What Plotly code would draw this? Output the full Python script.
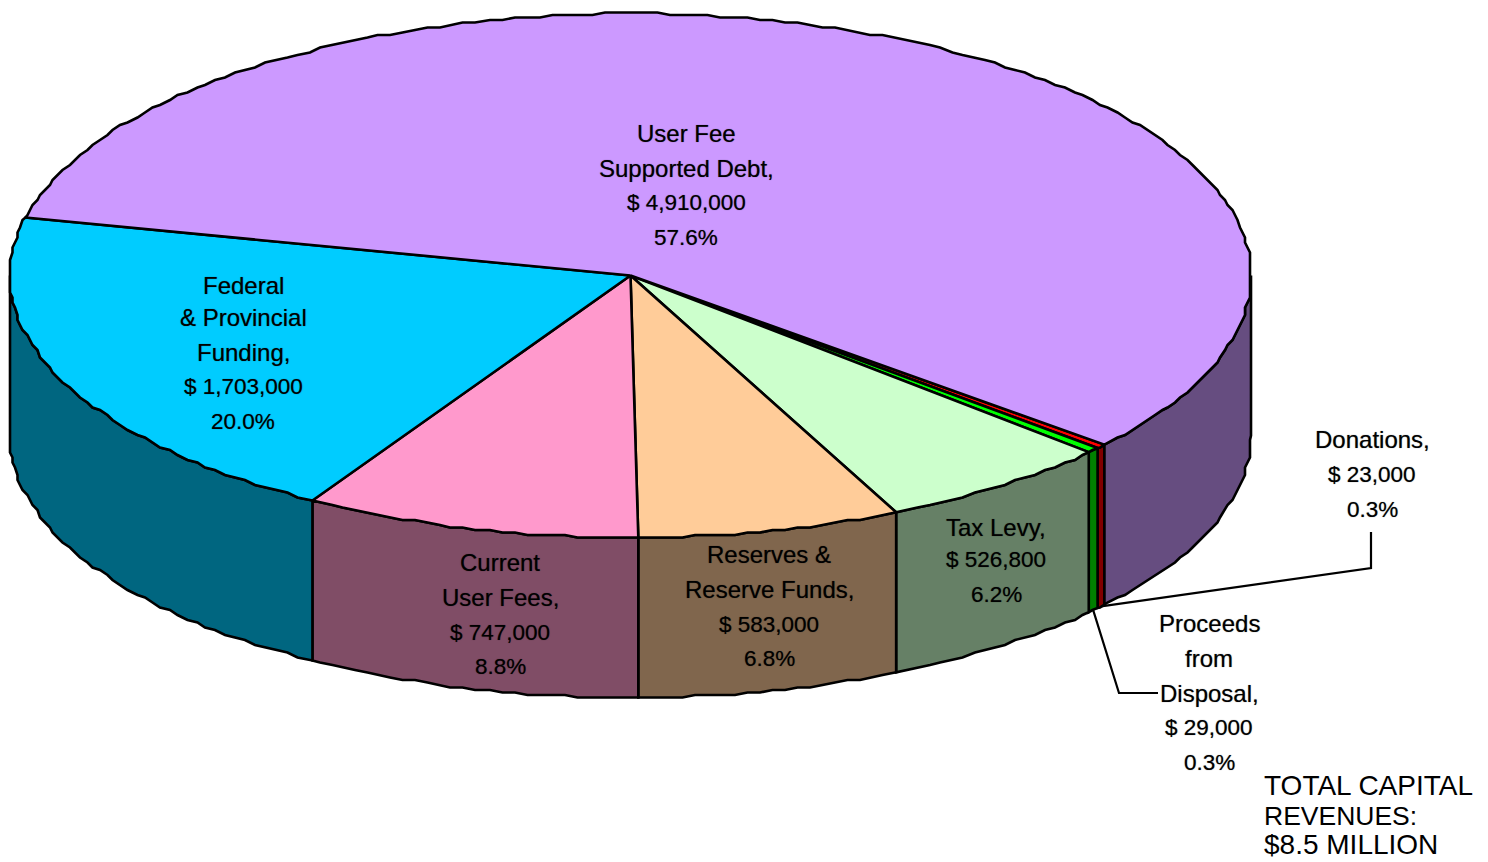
import numpy as np
import plotly.graph_objects as go

# Capital revenue sources, clockwise from the User Fee / Donations boundary
categories = ["Donations", "Proceeds from Disposal", "Tax Levy", "Reserves & Reserve Funds",
              "Current User Fees", "Federal & Provincial Funding", "User Fee Supported Debt"]
amounts = [23000, 29000, 526800, 583000, 747000, 1703000, 4910000]
top_colors = ["#FF0000", "#00FF00", "#CCFFCC", "#FFCC99", "#FF99CC", "#00CCFF", "#CC99FF"]
wall_colors = ["#800000", "#008000", "#668066", "#80664D", "#804D66", "#006680", "#664D80"]

# Disc projection, in page pixels
CX, CY, RX, RY, DEPTH = 630.5, 275.5, 620.5, 262.0, 160.0
START_DEG = 40.2
GRID = 2.5       # rim vertices snap to this coarse grid, giving the stepped outline
ARC_STEP = 1.2   # degrees between rim vertices

OUTLINE = dict(color="#000000", width=2.6)
LEADER = dict(color="#000000", width=2.2)
FONT = "Liberation Sans"
TEXT_SHADOW = "0 0 1px rgba(0,0,0,0.55)"


def ellipse(deg, drop=0.0):
    rad = np.radians(deg)
    return CX + RX * np.cos(rad), CY + RY * np.sin(rad) + drop


def arc(a, b, drop=0.0):
    # Interior vertices sit on a shared angle lattice so neighbouring faces trace the same rim
    lo, hi = min(a, b), max(a, b)
    inner = np.arange(np.ceil(lo / ARC_STEP + 1e-6), hi / ARC_STEP) * ARC_STEP
    x, y = ellipse(inner)
    x = np.round(x / GRID) * GRID
    y = np.round(y / GRID) * GRID + drop
    x0, y0 = ellipse(lo, drop)
    x1, y1 = ellipse(hi, drop)
    xs, ys = np.r_[x0, x, x1], np.r_[y0, y, y1]
    return (xs, ys) if a <= b else (xs[::-1], ys[::-1])


fractions = np.array(amounts) / sum(amounts)
edges = START_DEG + np.concatenate([[0], np.cumsum(fractions) * 360])

fig = go.Figure()


def polygon(x, y, fill):
    fig.add_trace(go.Scatter(x=list(x), y=list(y), mode="lines", fill="toself", fillcolor=fill,
                             line=OUTLINE, hoverinfo="skip", showlegend=False))


# Side walls: only the part of each slice on the near half of the disc is visible
for i, color in enumerate(wall_colors):
    for lo, hi in ((edges[i], edges[i + 1]), (edges[i] - 360, edges[i + 1] - 360)):
        a, b = max(lo, 0), min(hi, 180)
        if b <= a:
            continue
        xt, yt = arc(a, b)
        xb, yb = arc(b, a, DEPTH)
        polygon(np.r_[xt, xb, xt[0]], np.r_[yt, yb, yt[0]], color)

# Top face slices
for i, color in enumerate(top_colors):
    xt, yt = arc(edges[i], edges[i + 1])
    polygon(np.r_[CX, xt, CX], np.r_[CY, yt, CY], color)

# Leader lines from the two thin slices out to their labels
donation_x, donation_y = ellipse((edges[0] + edges[1]) / 2, DEPTH)
proceeds_x, proceeds_y = ellipse((edges[1] + edges[2]) / 2, DEPTH)
for xs, ys in (([donation_x, 1371, 1371], [donation_y, 568, 532]),
               ([proceeds_x, 1119, 1158], [proceeds_y, 693, 693])):
    fig.add_trace(go.Scatter(x=xs, y=ys, mode="lines", line=LEADER, hoverinfo="skip", showlegend=False))

# Slice labels, one annotation per line: (centre x, [(line y, text), ...])
labels = [
    (686, [(133, "User Fee"), (168, "Supported Debt,"), (202, "$ 4,910,000"), (237, "57.6%")]),
    (243, [(285, "Federal"), (317, "& Provincial"), (352, "Funding,"), (386, "$ 1,703,000"), (421, "20.0%")]),
    (500, [(562, "Current"), (597, "User Fees,"), (632, "$ 747,000"), (666, "8.8%")]),
    (769, [(554, "Reserves &"), (589, "Reserve Funds,"), (624, "$ 583,000"), (658, "6.8%")]),
    (996, [(527, "Tax Levy,"), (559, "$ 526,800"), (594, "6.2%")]),
    (1372, [(439, "Donations,"), (474, "$ 23,000"), (509, "0.3%")]),
    (1209, [(623, "Proceeds"), (658, "from"), (693, "Disposal,"), (727, "$ 29,000"), (762, "0.3%")]),
]
for x, lines in labels:
    for y, text in lines:
        # Figures are set a touch smaller than words
        size = 22.5 if any(ch.isdigit() for ch in text) else 24
        fig.add_annotation(x=x, y=y, text=text, showarrow=False, xanchor="center", yanchor="middle",
                           font=dict(family=FONT, size=size, color="#000000", shadow=TEXT_SHADOW))

for y, text, size in ((785, "TOTAL CAPITAL", 28), (816, "REVENUES:", 26.5), (844, "$8.5 MILLION", 28)):
    fig.add_annotation(x=1262, y=y, text=text, showarrow=False, xanchor="left", yanchor="middle",
                       font=dict(family=FONT, size=size, color="#000000"))

fig.update_layout(
    width=1488, height=862, margin=dict(l=0, r=0, t=0, b=0),
    paper_bgcolor="#FFFFFF", plot_bgcolor="#FFFFFF", showlegend=False,
    xaxis=dict(range=[0, 1488], visible=False, fixedrange=True),
    yaxis=dict(range=[862, 0], visible=False, fixedrange=True),
)
fig.write_html("out.html", config={"displayModeBar": False})
